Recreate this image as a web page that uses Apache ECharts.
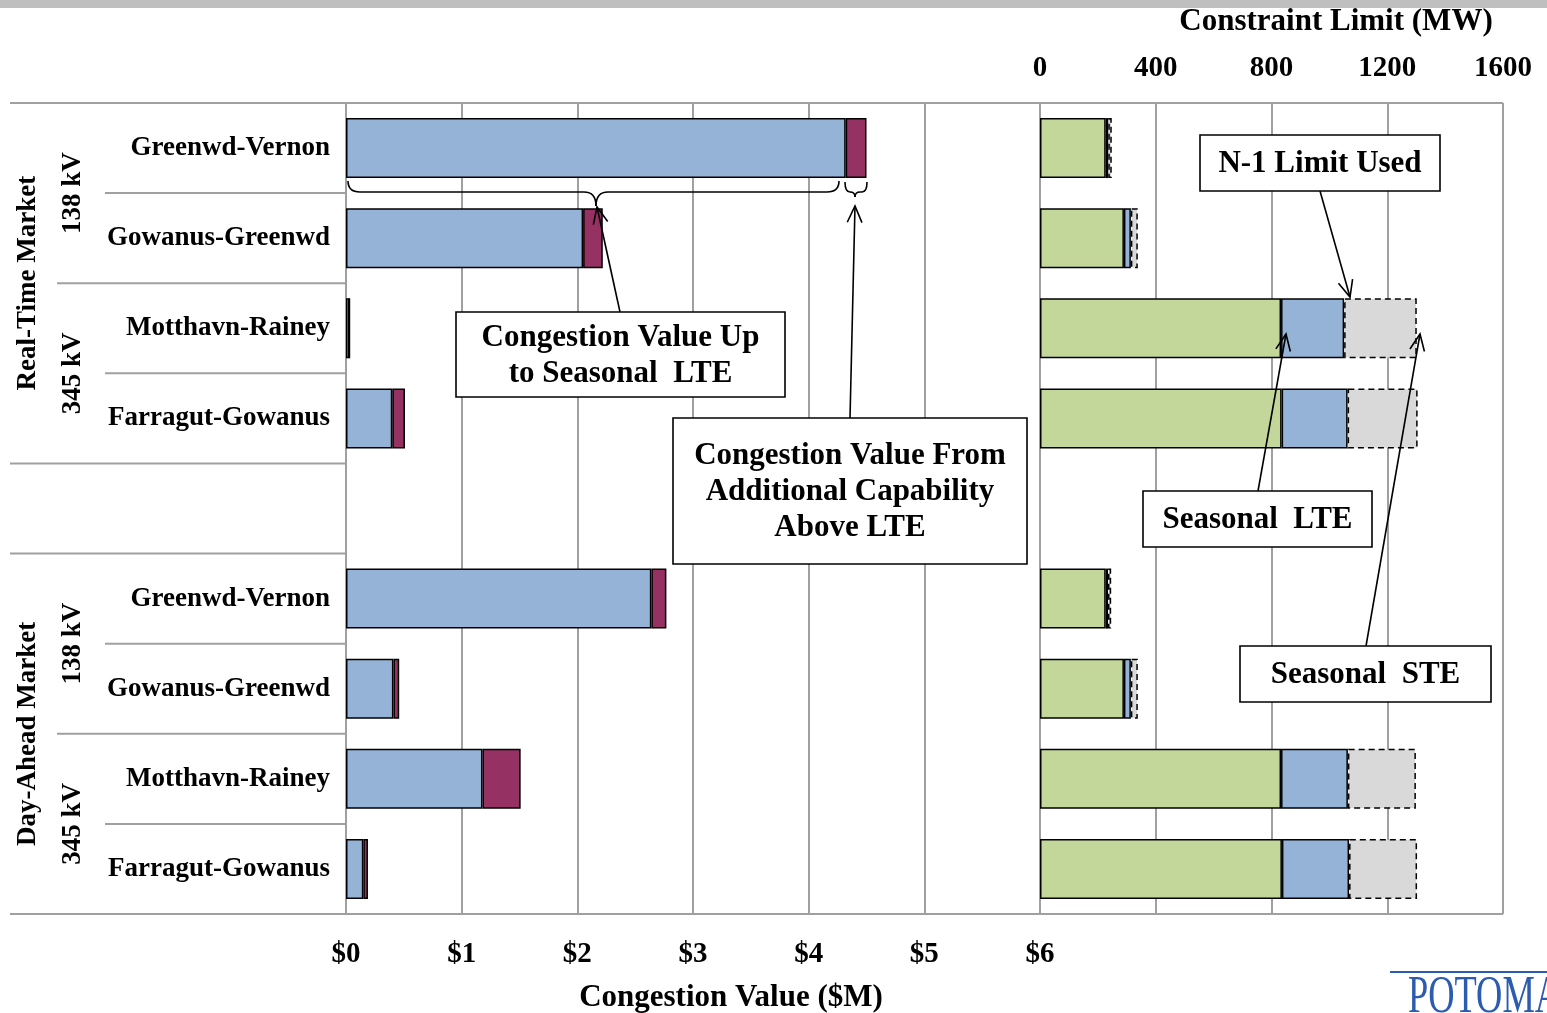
<!DOCTYPE html>
<html>
<head>
<meta charset="utf-8">
<script src="https://cdn.jsdelivr.net/npm/echarts@6/dist/echarts.min.js"></script>
<style>
  html, body { margin: 0; padding: 0; background: #fff; }
</style>
</head>
<body>
<div id="chart" style="width:1547px;height:1013px;"></div>
<script>
// rows: 4 real-time, a blank spacer, 4 day-ahead
var categories = ['Greenwd-Vernon', 'Gowanus-Greenwd', 'Motthavn-Rainey', 'Farragut-Gowanus', '',
  'Greenwd-Vernon', 'Gowanus-Greenwd', 'Motthavn-Rainey', 'Farragut-Gowanus'];

// congestion value, $M
var valueUpToLte = [4.32, 2.05, 0.03, 0.40, null, 2.64, 0.41, 1.18, 0.15];
var valueAboveLte = [0.18, 0.17, 0, 0.11, null, 0.13, 0.05, 0.33, 0.04];

// constraint limits, MW (stacked pieces)
var seasonalLte = [227, 290, 833, 835, null, 227, 290, 833, 836];
var n1Extra = [9, 24, 218, 228, null, 8, 24, 231, 232];
var steExtra = [12, 24, 251, 242, null, 11, 24, 235, 235];

var dollarTicks = ['$0', '$1', '$2', '$3', '$4', '$5', '$6'];

var FONT = "'Liberation Serif', 'Times New Roman', serif";
var GRID_TOP = 103, GRID_BOTTOM = 914;
var rowH = (GRID_BOTTOM - GRID_TOP) / categories.length;
var lineGray = '#a0a0a0';

var myChart = echarts.init(document.getElementById('chart'));

function hline(x1, x2, y) {
  return { type: 'line', shape: { x1: x1, y1: y, x2: x2, y2: y }, style: { stroke: lineGray, lineWidth: 2 } };
}

function vtext(txt, x, y) {
  return {
    type: 'text', x: x, y: y, rotation: Math.PI / 2,
    style: { text: txt, font: 'bold 27px ' + FONT, fill: '#000', align: 'center', verticalAlign: 'middle' }
  };
}

var ink = { stroke: '#000', lineWidth: 1.6, fill: null };

// arrow: line + open V head at the tip
function arrow(fx, fy, tx, ty) {
  var a = Math.atan2(ty - fy, tx - fx), L = 18, w = 0.42;
  return [
    { type: 'line', z: 100, shape: { x1: fx, y1: fy, x2: tx, y2: ty }, style: ink },
    { type: 'polyline', z: 100, shape: { points: [
        [tx - L * Math.cos(a - w), ty - L * Math.sin(a - w)], [tx, ty],
        [tx - L * Math.cos(a + w), ty - L * Math.sin(a + w)]] }, style: ink }
  ];
}

// horizontal curly brace opening upward, tip pointing down
function brace(xL, xR, xC, yTop, yMid, yTip, r) {
  function q(x1, y1, cx, cy, x2, y2) {
    return { type: 'bezierCurve', z: 100, shape: { x1: x1, y1: y1, cpx1: cx, cpy1: cy, x2: x2, y2: y2 }, style: ink };
  }
  return [
    q(xL, yTop, xL, yMid, xL + r, yMid),
    { type: 'line', z: 100, shape: { x1: xL + r, y1: yMid, x2: xC - r, y2: yMid }, style: ink },
    q(xC - r, yMid, xC, yMid, xC, yTip),
    q(xC, yTip, xC, yMid, xC + r, yMid),
    { type: 'line', z: 100, shape: { x1: xC + r, y1: yMid, x2: xR - r, y2: yMid }, style: ink },
    q(xR - r, yMid, xR, yMid, xR, yTop)
  ];
}

function box(x, y, w, h, lines, lh) {
  var els = [{ type: 'rect', z: 101, shape: { x: x, y: y, width: w, height: h }, style: { fill: '#fff', stroke: '#000', lineWidth: 1.6 } }];
  var cy = y + h / 2 - (lines.length - 1) * lh / 2;
  lines.forEach(function (t, i) {
    els.push({ type: 'text', z: 102, x: x + w / 2, y: cy + i * lh + 1,
      style: { text: t, font: 'bold 31px ' + FONT, fill: '#000', align: 'center', verticalAlign: 'middle' } });
  });
  return els;
}

var graphics = [
  { type: 'rect', shape: { x: 0, y: 0, width: 1547, height: 8 }, style: { fill: '#bfbfbf' } },
  hline(10, 1503, GRID_TOP), hline(10, 1503, GRID_BOTTOM),
  hline(10, 346, GRID_TOP + rowH * 4), hline(10, 346, GRID_TOP + rowH * 5),
  hline(57, 346, GRID_TOP + rowH * 2), hline(57, 346, GRID_TOP + rowH * 7),
  hline(105, 346, GRID_TOP + rowH * 1), hline(105, 346, GRID_TOP + rowH * 3),
  hline(105, 346, GRID_TOP + rowH * 6), hline(105, 346, GRID_TOP + rowH * 8),
  vtext('Real-Time Market', 28, GRID_TOP + rowH * 2),
  vtext('Day-Ahead Market', 28, GRID_TOP + rowH * 7),
  vtext('138 kV', 73, GRID_TOP + rowH * 1),
  vtext('345 kV', 73, GRID_TOP + rowH * 3),
  vtext('138 kV', 73, GRID_TOP + rowH * 6),
  vtext('345 kV', 73, GRID_TOP + rowH * 8),
  { type: 'text', x: 731, y: 998, style: { text: 'Congestion Value ($M)', font: 'bold 31px ' + FONT, fill: '#000', align: 'center', verticalAlign: 'middle' } },
  { type: 'text', x: 1336, y: 22, style: { text: 'Constraint Limit (MW)', font: 'bold 31px ' + FONT, fill: '#000', align: 'center', verticalAlign: 'middle' } },
  // logo
  { type: 'line', shape: { x1: 1390, y1: 972, x2: 1547, y2: 972 }, style: { stroke: '#2b5caf', lineWidth: 2 } },
  { type: 'text', x: 1408, y: 972, scaleX: 0.7, style: { text: 'POTOMAC', font: '52px ' + FONT, fill: '#2b5caf', align: 'left', verticalAlign: 'top' } }
];

graphics = graphics
  .concat(brace(348, 839, 596, 181, 192, 206, 12))
  .concat(brace(845, 867, 855, 182, 192, 197, 5))
  .concat(arrow(620, 312, 597, 207))
  .concat(arrow(850, 418, 855, 206))
  .concat(arrow(1320, 191, 1350, 297))
  .concat(arrow(1258, 491, 1286, 334))
  .concat(arrow(1366, 646, 1420, 334))
  .concat(box(456, 312, 329, 85, ['Congestion Value Up', 'to Seasonal  LTE'], 36))
  .concat(box(673, 418, 354, 146, ['Congestion Value From', 'Additional Capability', 'Above LTE'], 36))
  .concat(box(1200, 135, 240, 56, ['N-1 Limit Used'], 36))
  .concat(box(1143, 491, 229, 56, ['Seasonal  LTE'], 36))
  .concat(box(1240, 646, 251, 56, ['Seasonal  STE'], 36));

var barBorder = { borderColor: '#000', borderWidth: 1.5 };

myChart.setOption({
  animation: false,
  backgroundColor: '#fff',
  grid: [
    { left: 346, right: 507, top: GRID_TOP, bottom: 1013 - GRID_BOTTOM },
    { left: 1040, right: 44, top: GRID_TOP, bottom: 1013 - GRID_BOTTOM }
  ],
  xAxis: [
    {
      gridIndex: 0, type: 'value', min: 0, max: 6, interval: 1, position: 'bottom',
      axisLine: { show: false }, axisTick: { show: false },
      splitLine: { show: true, lineStyle: { color: lineGray, width: 2 } },
      axisLabel: { margin: 26, color: '#000', fontFamily: FONT, fontWeight: 'bold', fontSize: 29,
        formatter: function (v) { return dollarTicks[v]; } }
    },
    {
      gridIndex: 1, type: 'value', min: 0, max: 1600, interval: 400, position: 'top',
      axisLine: { show: false }, axisTick: { show: false },
      splitLine: { show: true, lineStyle: { color: lineGray, width: 2 } },
      axisLabel: { margin: 20, color: '#000', fontFamily: FONT, fontWeight: 'bold', fontSize: 29,
        formatter: function (v) { return String(v); } }
    }
  ],
  yAxis: [
    {
      gridIndex: 0, type: 'category', inverse: true, data: categories,
      axisLine: { show: true, lineStyle: { color: lineGray, width: 2 } }, axisTick: { show: false },
      axisLabel: { margin: 16, color: '#000', fontFamily: FONT, fontWeight: 'bold', fontSize: 27, interval: 0,
        padding: [4, 0, 0, 0] }
    },
    {
      gridIndex: 1, type: 'category', inverse: true, data: categories,
      axisLine: { show: true, lineStyle: { color: lineGray, width: 2 } }, axisTick: { show: false },
      axisLabel: { show: false }
    }
  ],
  series: [
    { name: 'Up to Seasonal LTE', type: 'bar', stack: 'v', xAxisIndex: 0, yAxisIndex: 0, barWidth: 60,
      itemStyle: Object.assign({ color: '#95b3d7' }, barBorder), data: valueUpToLte },
    { name: 'Above LTE', type: 'bar', stack: 'v', xAxisIndex: 0, yAxisIndex: 0, barWidth: 60,
      itemStyle: Object.assign({ color: '#953163' }, barBorder), data: valueAboveLte },
    { name: 'Seasonal LTE', type: 'bar', stack: 'mw', xAxisIndex: 1, yAxisIndex: 1, barWidth: 60,
      itemStyle: Object.assign({ color: '#c4d79b' }, barBorder), data: seasonalLte },
    { name: 'N-1 Limit Used', type: 'bar', stack: 'mw', xAxisIndex: 1, yAxisIndex: 1, barWidth: 60,
      itemStyle: Object.assign({ color: '#95b3d7' }, barBorder), data: n1Extra },
    { name: 'Seasonal STE', type: 'bar', stack: 'mw', xAxisIndex: 1, yAxisIndex: 1, barWidth: 60,
      itemStyle: { color: '#d9d9d9', borderColor: '#000', borderWidth: 1.5, borderType: [6, 4] }, data: steExtra }
  ],
  graphic: graphics
});
</script>
</body>
</html>
